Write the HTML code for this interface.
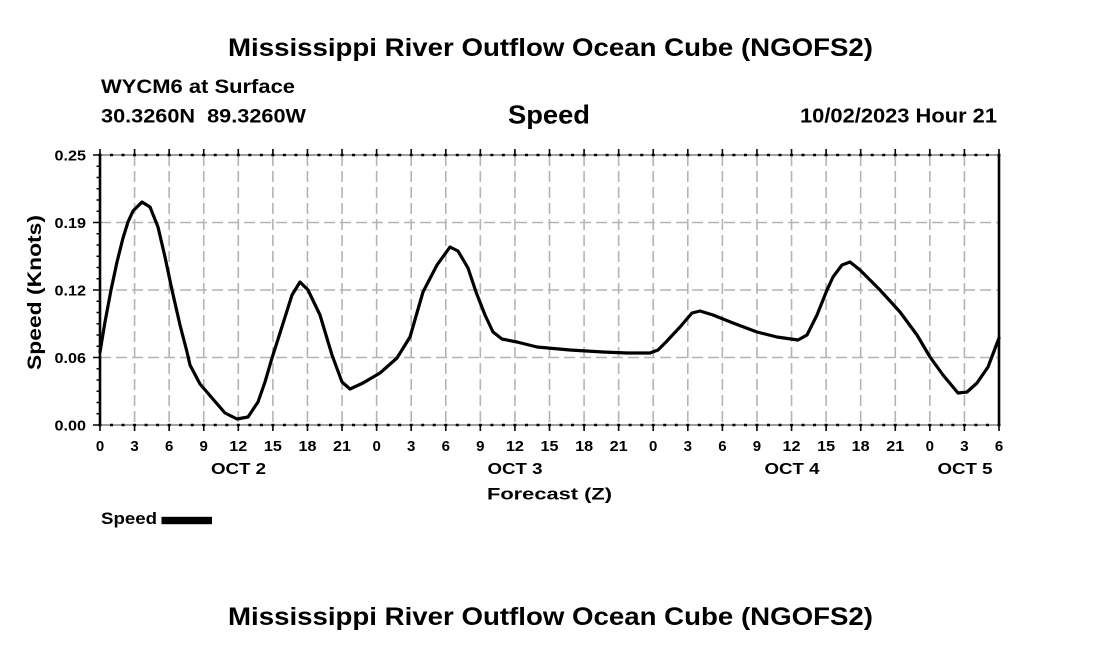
<!DOCTYPE html>
<html><head><meta charset="utf-8"><style>
html,body{margin:0;padding:0;background:#fff;}
svg{display:block;}
text{font-family:"Liberation Sans",Arial,sans-serif;font-weight:bold;fill:#000;}
</style></head><body>
<svg width="1100" height="650" viewBox="0 0 1100 650" xmlns="http://www.w3.org/2000/svg">
<rect width="1100" height="650" fill="#fff"/>
<text x="228" y="56" font-size="25" textLength="645" lengthAdjust="spacingAndGlyphs">Mississippi River Outflow Ocean Cube (NGOFS2)</text>
<text x="101" y="93" font-size="19" textLength="194" lengthAdjust="spacingAndGlyphs">WYCM6 at Surface</text>
<text x="101" y="122.5" font-size="19" textLength="205" lengthAdjust="spacingAndGlyphs" xml:space="preserve">30.3260N  89.3260W</text>
<text x="508" y="123.5" font-size="26" textLength="82" lengthAdjust="spacingAndGlyphs">Speed</text>
<text x="800" y="122.5" font-size="20" textLength="197" lengthAdjust="spacingAndGlyphs">10/02/2023 Hour 21</text>

<!-- grid -->
<g stroke="#b4b4b4" stroke-width="1.6" stroke-dasharray="11 5" fill="none">
<path d="M100 357.5H999M100 290H999M100 222.5H999"/>
<path d="M134.58 155V425M169.15 155V425M203.73 155V425M238.31 155V425M272.88 155V425M307.46 155V425M342.04 155V425M376.62 155V425M411.19 155V425M445.77 155V425M480.35 155V425M514.92 155V425M549.5 155V425M584.08 155V425M618.65 155V425M653.23 155V425M687.81 155V425M722.38 155V425M756.96 155V425M791.54 155V425M826.12 155V425M860.69 155V425M895.27 155V425M929.85 155V425M964.42 155V425"/>
</g>

<!-- top/bottom axes -->
<path d="M100 155H999M100 425H999" stroke="#808080" stroke-width="1.5" fill="none"/>
<path d="M98.5 155H1000.5M98.5 425H1000.5" stroke="#000" stroke-width="2.5" stroke-dasharray="3 8.5256" fill="none"/>
<g stroke="#000" stroke-width="1.6" fill="none">
<path d="M100 149V155M134.58 149V155M169.15 149V155M203.73 149V155M238.31 149V155M272.88 149V155M307.46 149V155M342.04 149V155M376.62 149V155M411.19 149V155M445.77 149V155M480.35 149V155M514.92 149V155M549.5 149V155M584.08 149V155M618.65 149V155M653.23 149V155M687.81 149V155M722.38 149V155M756.96 149V155M791.54 149V155M826.12 149V155M860.69 149V155M895.27 149V155M929.85 149V155M964.42 149V155M999 149V155"/>
<path d="M100 425V431M134.58 425V431M169.15 425V431M203.73 425V431M238.31 425V431M272.88 425V431M307.46 425V431M342.04 425V431M376.62 425V431M411.19 425V431M445.77 425V431M480.35 425V431M514.92 425V431M549.5 425V431M584.08 425V431M618.65 425V431M653.23 425V431M687.81 425V431M722.38 425V431M756.96 425V431M791.54 425V431M826.12 425V431M860.69 425V431M895.27 425V431M929.85 425V431M964.42 425V431M999 425V431"/>
<path d="M93 155H100M93 222.5H100M93 290H100M93 357.5H100M93 425H100"/>
<path d="M96.5 166.25H100M96.5 177.5H100M96.5 188.75H100M96.5 200H100M96.5 211.25H100M96.5 233.75H100M96.5 245H100M96.5 256.25H100M96.5 267.5H100M96.5 278.75H100M96.5 301.25H100M96.5 312.5H100M96.5 323.75H100M96.5 335H100M96.5 346.25H100M96.5 368.75H100M96.5 380H100M96.5 391.25H100M96.5 402.5H100M96.5 413.75H100"/>
</g>
<path d="M100 154V426M999 154V426" stroke="#000" stroke-width="2.6" fill="none"/>

<!-- curve -->
<polyline fill="none" stroke="#000" stroke-width="3.2" stroke-linejoin="round" stroke-linecap="round" points="100,352 105,322 111,290 117,262 123,238 128,222 133,211 142,202 150,207 158,227 165,257 172,290 180,325 187,352 190,365 200,384 212,398 225,413 237,419 248,417 258,402 265,382 272,358 280,333 292,295 300,282 308,290 320,315 332,355 342,382 350,389 363,383 380,373 397,358 410,337 423,292 437,265 450,247 458,251 468,268 476,292 485,315 493,332 502,339 517,342 537,347 570,350 603,352 627,353 650,353 658,350 666,342 680,327 692,313 700,311 713,315 733,323 757,332 777,337 798,340 807,335 817,315 827,290 833,277 842,265 850,262 860,270 880,290 900,312 917,335 930,357 943,375 958,393 967,392 977,383 988,367 999,338"/>

<!-- y labels -->
<g font-size="15" text-anchor="end">
<text x="86" y="160.5" textLength="31.5" lengthAdjust="spacingAndGlyphs">0.25</text>
<text x="86" y="228" textLength="31.5" lengthAdjust="spacingAndGlyphs">0.19</text>
<text x="86" y="295.5" textLength="31.5" lengthAdjust="spacingAndGlyphs">0.12</text>
<text x="86" y="363" textLength="31.5" lengthAdjust="spacingAndGlyphs">0.06</text>
<text x="86" y="430.5" textLength="31.5" lengthAdjust="spacingAndGlyphs">0.00</text>
</g>
<text transform="translate(41,292.5) rotate(-90)" font-size="19" text-anchor="middle" textLength="155" lengthAdjust="spacingAndGlyphs">Speed (Knots)</text>

<!-- x labels -->
<g font-size="15" text-anchor="middle">
<text x="100" y="451">0</text><text x="134.58" y="451">3</text><text x="169.15" y="451">6</text><text x="203.73" y="451">9</text>
<text x="238.31" y="451" textLength="18" lengthAdjust="spacingAndGlyphs">12</text><text x="272.88" y="451" textLength="18" lengthAdjust="spacingAndGlyphs">15</text><text x="307.46" y="451" textLength="18" lengthAdjust="spacingAndGlyphs">18</text><text x="342.04" y="451" textLength="18" lengthAdjust="spacingAndGlyphs">21</text>
<text x="376.62" y="451">0</text><text x="411.19" y="451">3</text><text x="445.77" y="451">6</text><text x="480.35" y="451">9</text>
<text x="514.92" y="451" textLength="18" lengthAdjust="spacingAndGlyphs">12</text><text x="549.5" y="451" textLength="18" lengthAdjust="spacingAndGlyphs">15</text><text x="584.08" y="451" textLength="18" lengthAdjust="spacingAndGlyphs">18</text><text x="618.65" y="451" textLength="18" lengthAdjust="spacingAndGlyphs">21</text>
<text x="653.23" y="451">0</text><text x="687.81" y="451">3</text><text x="722.38" y="451">6</text><text x="756.96" y="451">9</text>
<text x="791.54" y="451" textLength="18" lengthAdjust="spacingAndGlyphs">12</text><text x="826.12" y="451" textLength="18" lengthAdjust="spacingAndGlyphs">15</text><text x="860.69" y="451" textLength="18" lengthAdjust="spacingAndGlyphs">18</text><text x="895.27" y="451" textLength="18" lengthAdjust="spacingAndGlyphs">21</text>
<text x="929.85" y="451">0</text><text x="964.42" y="451">3</text><text x="999" y="451">6</text>
</g>
<g font-size="16" text-anchor="middle">
<text x="238.5" y="474" textLength="55" lengthAdjust="spacingAndGlyphs">OCT 2</text>
<text x="515" y="474" textLength="55" lengthAdjust="spacingAndGlyphs">OCT 3</text>
<text x="792" y="474" textLength="55" lengthAdjust="spacingAndGlyphs">OCT 4</text>
<text x="965" y="474" textLength="55" lengthAdjust="spacingAndGlyphs">OCT 5</text>
</g>
<text x="549.5" y="499.5" font-size="17" text-anchor="middle" textLength="125" lengthAdjust="spacingAndGlyphs">Forecast (Z)</text>

<!-- legend -->
<text x="101" y="524" font-size="17" textLength="56" lengthAdjust="spacingAndGlyphs">Speed</text>
<rect x="161.5" y="516.8" width="50.5" height="7.4" fill="#000"/>

<text x="228" y="625" font-size="25" textLength="645" lengthAdjust="spacingAndGlyphs">Mississippi River Outflow Ocean Cube (NGOFS2)</text>
</svg>
</body></html>
